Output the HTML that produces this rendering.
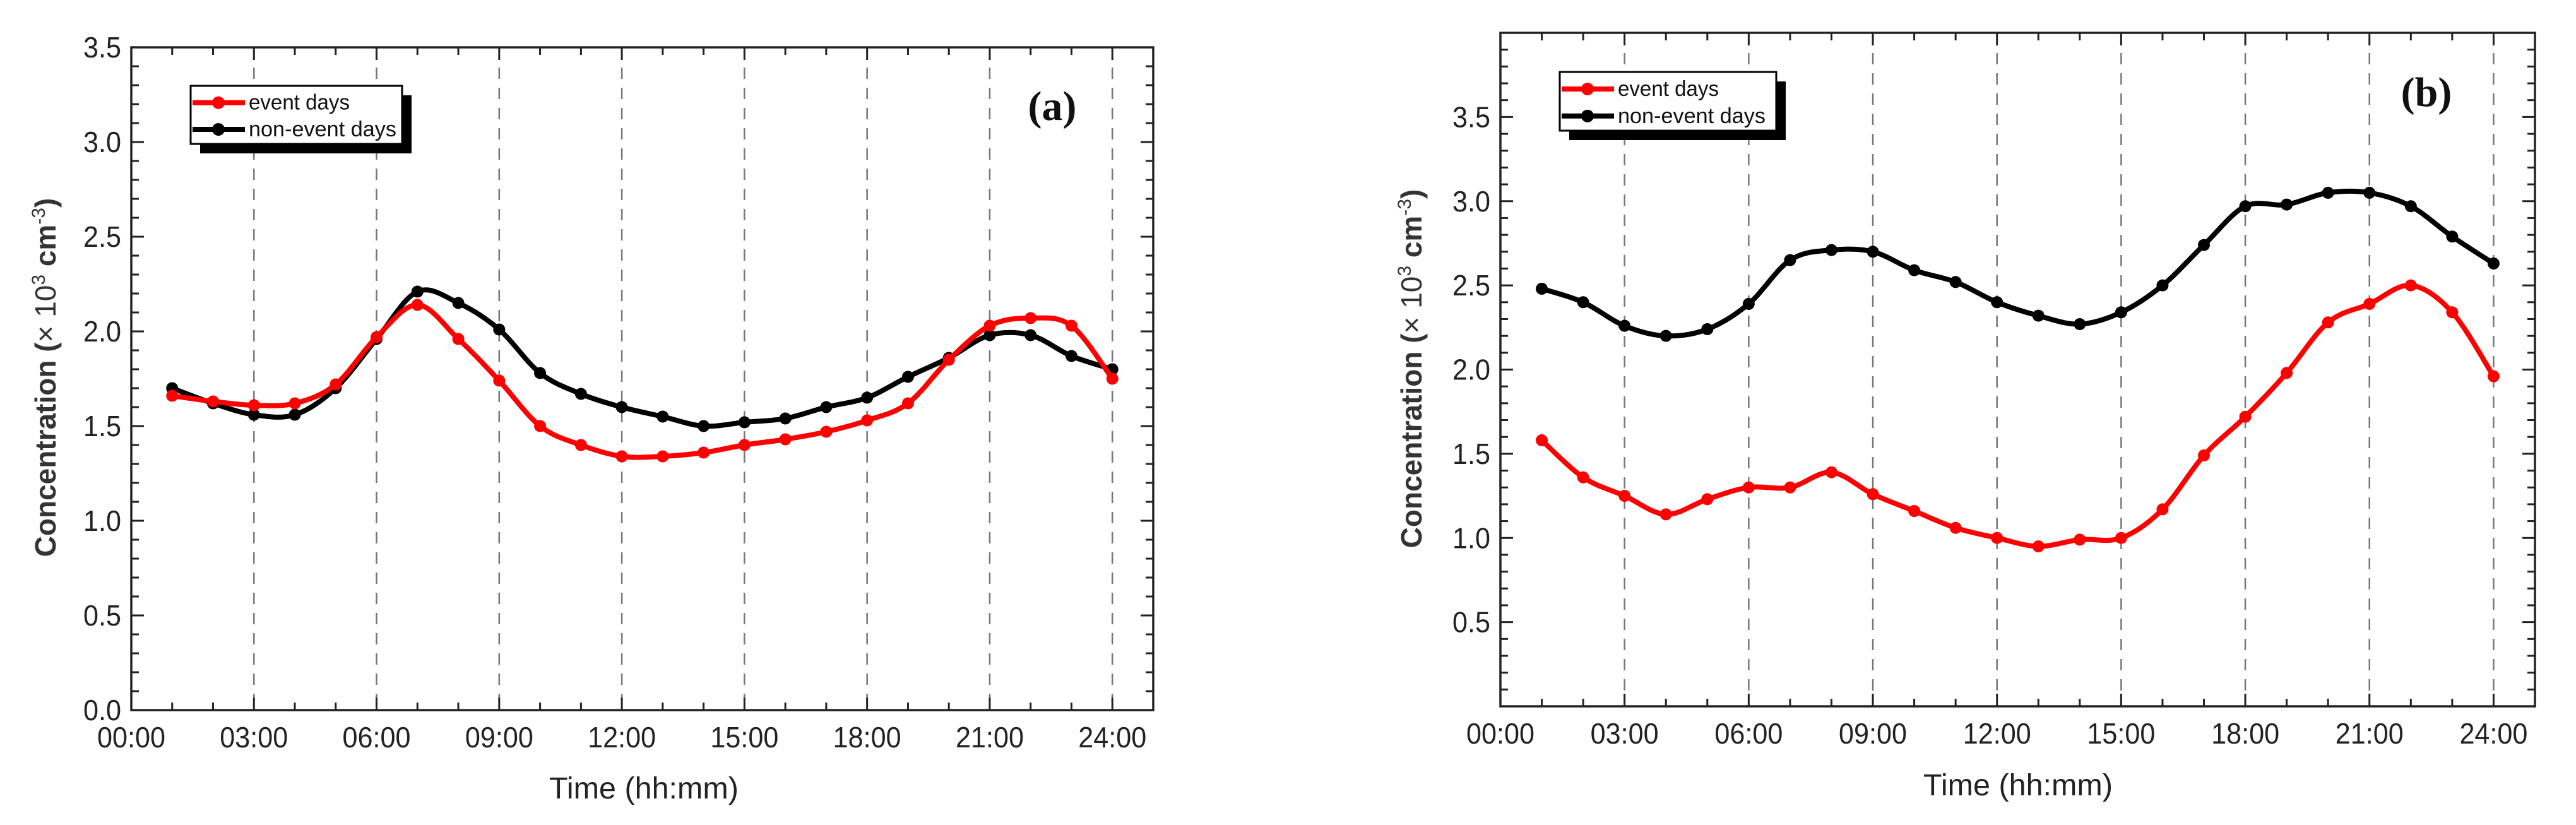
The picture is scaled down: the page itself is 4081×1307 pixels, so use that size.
<!DOCTYPE html>
<html><head><meta charset="utf-8"><style>
html,body{margin:0;padding:0;background:#fff;}
svg{display:block;}
text{font-family:"Liberation Sans",sans-serif;}
</style></head><body>
<svg id="fig" width="4081" height="1307" viewBox="0 0 4081 1307" xmlns="http://www.w3.org/2000/svg"></svg>
<script>
const hours = [1,2,3,4,5,6,7,8,9,10,11,12,13,14,15,16,17,18,19,20,21,22,23,24];
const aEvent = [1.66,1.63,1.61,1.62,1.72,1.97,2.14,1.96,1.74,1.50,1.40,1.34,1.34,1.36,1.40,1.43,1.47,1.53,1.62,1.85,2.03,2.07,2.03,1.75];
const aNonEvent = [1.70,1.62,1.56,1.56,1.70,1.96,2.21,2.15,2.01,1.78,1.67,1.60,1.55,1.50,1.52,1.54,1.60,1.65,1.76,1.86,1.98,1.98,1.87,1.80];
const bEvent = [1.58,1.36,1.25,1.14,1.23,1.30,1.30,1.39,1.26,1.16,1.06,1.00,0.95,0.99,1.00,1.17,1.49,1.72,1.98,2.28,2.39,2.50,2.34,1.96];
const bNonEvent = [2.48,2.40,2.26,2.20,2.24,2.39,2.65,2.71,2.70,2.59,2.52,2.40,2.32,2.27,2.34,2.50,2.74,2.97,2.98,3.05,3.05,2.97,2.79,2.63];
const xTickLabels = ["00:00","03:00","06:00","09:00","12:00","15:00","18:00","21:00","24:00"];
const aYTickLabels = ["0.0","0.5","1.0","1.5","2.0","2.5","3.0","3.5"];
const bYTickLabels = ["0.5","1.0","1.5","2.0","2.5","3.0","3.5"];
const legendLabels = ["event days","non-event days"];

const NS="http://www.w3.org/2000/svg";
const svg=document.getElementById('fig');
function el(tag,attrs,parent){const e=document.createElementNS(NS,tag);for(const k in attrs)e.setAttribute(k,attrs[k]);(parent||svg).appendChild(e);return e;}

function smoothPath(pts){
  let d="M"+pts[0][0]+","+pts[0][1];
  for(let i=0;i<pts.length-1;i++){
    const p0=pts[i-1]||pts[i],p1=pts[i],p2=pts[i+1],p3=pts[i+2]||p2;
    const c1=[p1[0]+(p2[0]-p0[0])/6,p1[1]+(p2[1]-p0[1])/6];
    const c2=[p2[0]-(p3[0]-p1[0])/6,p2[1]-(p3[1]-p1[1])/6];
    d+=" C"+c1[0]+","+c1[1]+" "+c2[0]+","+c2[1]+" "+p2[0]+","+p2[1];
  }
  return d;
}

function panel(cfg){
  const g=el('g',{});
  
  
  const {L,R,T,B,ymax}=cfg;
  const xs=h=>L+(h/25)*(R-L);
  const ys=v=>B-(v/ymax)*(B-T);
  for(let h=3;h<=24;h+=3){
    const gl=el('line',{x1:xs(h),x2:xs(h),y1:T,y2:B,stroke:'#777','stroke-width':2.5,'stroke-dasharray':'18,14'},g);
    
    
  }
  for(let h=0;h<=25;h++){
    const len=(h%3===0)?20:12;
    el('line',{x1:xs(h),x2:xs(h),y1:B,y2:B-len,stroke:'#222','stroke-width':3},g);
    el('line',{x1:xs(h),x2:xs(h),y1:T,y2:T+len,stroke:'#222','stroke-width':3},g);
  }
  for(let i=0;i<xTickLabels.length;i++){
    const t=el('text',{x:xs(i*3),y:cfg.xlabY,'text-anchor':'middle','font-size':46,fill:'#222',textLength:108,lengthAdjust:'spacingAndGlyphs'},g);
    t.textContent=xTickLabels[i];
    
    
  }
  for(let k=0;k*0.1<=ymax+1e-9;k++){
    const v=k*0.1;
    const len=(k%5===0)?20:12;
    el('line',{x1:L,x2:L+len,y1:ys(v),y2:ys(v),stroke:'#222','stroke-width':3},g);
    el('line',{x1:R,x2:R-len,y1:ys(v),y2:ys(v),stroke:'#222','stroke-width':3},g);
  }
  for(const lab of cfg.yTicks){
    const t=el('text',{x:L-16,y:ys(parseFloat(lab))+16,'text-anchor':'end','font-size':46,fill:'#222',textLength:60,lengthAdjust:'spacingAndGlyphs'},g);
    t.textContent=lab;
    
    
  }
  const fr=el('rect',{x:L,y:T,width:R-L,height:B-T,fill:'none',stroke:'#222','stroke-width':3.5},g);
  
  
  const series=[[cfg.nonEvent,'#000','non-event-days-line'],[cfg.event,'#ff0000','event-days-line']];
  for(const [vals,col,nm] of series){
    const pts=hours.map((h,i)=>[xs(h),ys(vals[i])]);
    const p=el('path',{d:smoothPath(pts),fill:'none',stroke:col,'stroke-width':8},g);
    
    
    for(const q of pts){
      const c=el('circle',{cx:q[0],cy:q[1],r:9.5,fill:col},g);
      
      
    }
  }
  const lg=el('g',{},g);
  
  
  const [lx,ly,lw,lh]=cfg.legend;
  el('rect',{x:lx+15,y:ly+15,width:lw,height:lh,fill:'#000'},lg);
  el('rect',{x:lx,y:ly,width:lw,height:lh,fill:'#fff',stroke:'#000','stroke-width':3},lg);
  const cols=['#ff0000','#000'];
  for(let i=0;i<2;i++){
    const yy=ly+lh*(0.29+0.46*i);
    el('line',{x1:lx+3,x2:lx+86,y1:yy,y2:yy,stroke:cols[i],'stroke-width':8},lg);
    el('circle',{cx:lx+44,cy:yy,r:10,fill:cols[i]},lg);
    const t=el('text',{x:lx+92,y:yy+11,'font-size':34,fill:'#111',textLength:(i?234:160),lengthAdjust:'spacingAndGlyphs'},lg);
    t.textContent=legendLabels[i];
    
    
  }
  const pl=el('text',{x:cfg.tag[0],y:cfg.tag[1],'text-anchor':'middle','font-size':66,'font-weight':'bold',fill:'#111',style:'font-family:"Liberation Serif",serif'},g);
  pl.textContent=cfg.tagText;
  
  
  const xt=el('text',{x:cfg.xt[0],y:cfg.xt[1],'text-anchor':'middle','font-size':48,fill:'#222',textLength:300,lengthAdjust:'spacingAndGlyphs'},g);
  xt.textContent='Time (hh:mm)';
  
  
  const yt=el('text',{x:0,y:0,'text-anchor':'middle','font-size':46,'font-weight':'bold',fill:'#333',transform:`translate(${cfg.yt[0]},${cfg.yt[1]}) rotate(-90)`},g);
  yt.innerHTML='Concentration (<tspan font-weight="normal">× 10</tspan><tspan dy="-17" font-size="30" font-weight="normal">3</tspan><tspan dy="17"> cm</tspan><tspan dy="-17" font-size="30" font-weight="normal">-3</tspan><tspan dy="17">)</tspan>';
  
  
}

panel({name:'panel-a',L:208,R:1827,T:75,B:1125,ymax:3.5,yTicks:aYTickLabels,event:aEvent,nonEvent:aNonEvent,
  xlabY:1184,legend:[302,136,335,92],tag:[1667,190],tagText:'(a)',xt:[1020,1265],yt:[88,598]});
panel({name:'panel-b',L:2377,R:4016,T:52,B:1119,ymax:4.0,yTicks:bYTickLabels,event:bEvent,nonEvent:bNonEvent,
  xlabY:1178,legend:[2471,114,343,93],tag:[3844,168],tagText:'(b)',xt:[3197,1260],yt:[2252,584]});
</script>
</body></html>
